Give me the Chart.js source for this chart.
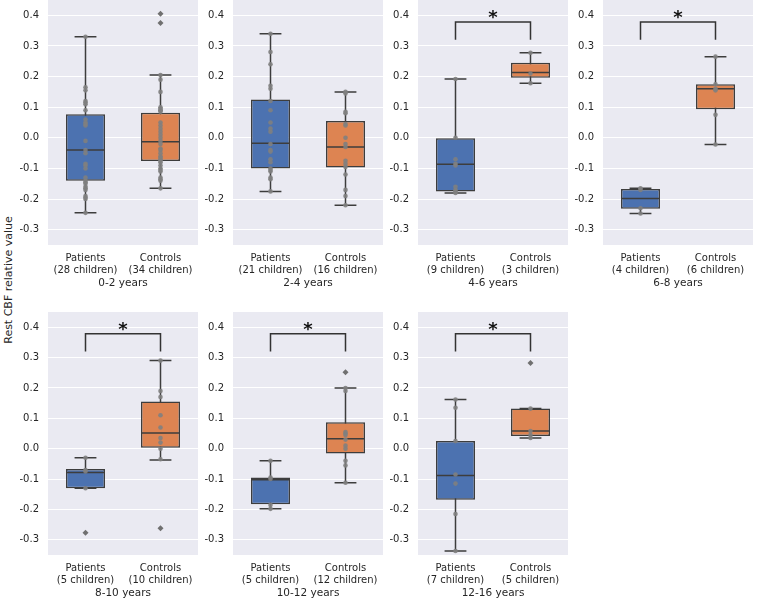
<!DOCTYPE html>
<html>
<head>
<meta charset="utf-8">
<script src="https://cdn.jsdelivr.net/npm/chart.js@4"></script>
<style>
  body { margin: 0; background: #fff; width: 757px; height: 600px; position: relative; overflow: hidden; font-family: "DejaVu Sans", sans-serif; }
  .panel { position: absolute; }
  #ytitle { position: absolute; left: 8px; top: 280px; transform: translate(-50%, -50%) rotate(-90deg); font-size: 11px; color: #262626; white-space: nowrap; }
</style>
</head>
<body>
<div id="ytitle">Rest CBF relative value</div>
<script>
// panels and groups
const panelTitles = ['0-2 years', '2-4 years', '4-6 years', '6-8 years', '8-10 years', '10-12 years', '12-16 years'];
const groups = ['Patients', 'Controls'];
const counts = [[28, 34], [21, 16], [9, 3], [4, 6], [5, 10], [5, 12], [7, 5]];
const yTicks = [-0.3, -0.2, -0.1, 0.0, 0.1, 0.2, 0.3, 0.4];

// box stats per panel, [patients, controls]
const whiskerLow  = [[-0.245, -0.165], [-0.175, -0.22], [-0.18, 0.178], [-0.247, -0.022], [-0.13, -0.037], [-0.198, -0.112], [-0.337, 0.035]];
const q1          = [[-0.14, -0.076], [-0.1, -0.097], [-0.175, 0.196], [-0.232, 0.093], [-0.13, 0.003], [-0.183, -0.016], [-0.168, 0.042]];
const median      = [[-0.04, -0.013], [-0.018, -0.03], [-0.086, 0.213], [-0.198, 0.16], [-0.078, 0.052], [-0.102, 0.033], [-0.088, 0.058]];
const q3          = [[0.077, 0.082], [0.125, 0.055], [0.0, 0.245], [-0.167, 0.175], [-0.067, 0.155], [-0.095, 0.087], [0.025, 0.132]];
const whiskerHigh = [[0.33, 0.205], [0.34, 0.15], [0.192, 0.278], [-0.165, 0.265], [-0.03, 0.29], [-0.04, 0.2], [0.162, 0.132]];

// individual children
const points = [
  [[0.33, 0.165, 0.155, 0.12, 0.115, 0.11, 0.09, 0.06, 0.05, 0.045, 0.04, -0.01, -0.04, -0.05, -0.085, -0.09, -0.1, -0.13, -0.14, -0.145, -0.15, -0.16, -0.165, -0.17, -0.19, -0.195, -0.2, -0.245],
   [0.205, 0.19, 0.15, 0.1, 0.095, 0.09, 0.09, 0.085, 0.05, 0.04, 0.03, 0.02, 0.01, 0.0, -0.01, -0.02, -0.035, -0.04, -0.05, -0.06, -0.065, -0.07, -0.075, -0.08, -0.09, -0.1, -0.105, -0.11, -0.13, -0.135, -0.14, -0.165]],
  [[0.34, 0.28, 0.24, 0.17, 0.16, 0.12, 0.09, 0.05, 0.03, 0.02, -0.02, -0.04, -0.045, -0.07, -0.08, -0.1, -0.105, -0.11, -0.13, -0.135, -0.175],
   [0.15, 0.145, 0.085, 0.08, 0.045, 0.04, 0.0, -0.02, -0.03, -0.075, -0.085, -0.095, -0.12, -0.17, -0.19, -0.22]],
  [[0.192, 0.0, -0.07, -0.085, -0.09, -0.16, -0.17, -0.175, -0.18],
   [0.278, 0.21, 0.178]],
  [[-0.165, -0.17, -0.23, -0.247],
   [0.265, 0.175, 0.16, 0.155, 0.075, -0.022]],
  [[-0.03, -0.07, -0.075, -0.13],
   [0.29, 0.19, 0.17, 0.11, 0.07, 0.035, 0.02, 0.0, -0.035]],
  [[-0.04, -0.095, -0.1, -0.185, -0.198],
   [0.2, 0.19, 0.055, 0.05, 0.045, 0.03, 0.01, 0.0, -0.04, -0.055, -0.112]],
  [[0.162, 0.135, 0.025, -0.085, -0.115, -0.215, -0.337],
   [0.132, 0.058, 0.045, 0.035]]
];
const outliers = [
  [[], [0.405, 0.375]],
  [[], []],
  [[], []],
  [[], []],
  [[-0.277], [-0.262]],
  [[], [0.252]],
  [[], [0.282]]
];
const significant = [false, false, true, true, true, true, true];

const boxColors = ['#4c72b0', '#dd8452'];
const edge = '#3d3d3d';
const textColor = '#262626';

Chart.defaults.font.family = '"DejaVu Sans", sans-serif';

const plotBg = {
  id: 'plotBg',
  beforeDraw(chart) {
    const { ctx, chartArea: a } = chart;
    ctx.save();
    ctx.fillStyle = '#eaeaf2';
    ctx.fillRect(a.left, a.top, a.width, a.height);
    ctx.restore();
  }
};

// whiskers, medians and the significance bracket
const boxParts = {
  id: 'boxParts',
  beforeDatasetsDraw(chart, args, opts) {
    const i = opts.panel;
    const { ctx } = chart;
    const x = chart.scales.x, y = chart.scales.y;
    const bars = chart.getDatasetMeta(0).data;
    ctx.save();
    ctx.strokeStyle = edge;
    ctx.lineWidth = 1.5;
    for (let g = 0; g < 2; g++) {
      const cx = x.getPixelForValue(g);
      const cap = bars[g].width * 0.28;
      const lo = y.getPixelForValue(whiskerLow[i][g]);
      const hi = y.getPixelForValue(whiskerHigh[i][g]);
      ctx.beginPath();
      ctx.moveTo(cx, lo); ctx.lineTo(cx, hi);
      ctx.moveTo(cx - cap, lo); ctx.lineTo(cx + cap, lo);
      ctx.moveTo(cx - cap, hi); ctx.lineTo(cx + cap, hi);
      ctx.stroke();
    }
    ctx.restore();
  },
  afterDatasetDraw(chart, args, opts) {
    if (args.index !== 0) return;
    const i = opts.panel;
    const { ctx } = chart;
    const y = chart.scales.y;
    const bars = chart.getDatasetMeta(0).data;
    ctx.save();
    ctx.strokeStyle = edge;
    ctx.lineWidth = 1.5;
    for (let g = 0; g < 2; g++) {
      const b = bars[g];
      const my = y.getPixelForValue(median[i][g]);
      ctx.beginPath();
      ctx.moveTo(b.x - b.width / 2, my);
      ctx.lineTo(b.x + b.width / 2, my);
      ctx.stroke();
    }
    ctx.restore();
  },
  afterDatasetsDraw(chart, args, opts) {
    const i = opts.panel;
    if (!significant[i]) return;
    const { ctx } = chart;
    const x = chart.scales.x, y = chart.scales.y;
    const x0 = x.getPixelForValue(0), x1 = x.getPixelForValue(1);
    const top = y.getPixelForValue(0.378), leg = y.getPixelForValue(0.32);
    ctx.save();
    ctx.strokeStyle = '#333';
    ctx.lineWidth = 1.5;
    ctx.beginPath();
    ctx.moveTo(x0, leg); ctx.lineTo(x0, top); ctx.lineTo(x1, top); ctx.lineTo(x1, leg);
    ctx.stroke();
    ctx.fillStyle = '#111';
    ctx.font = 'bold 18px "DejaVu Sans"';
    ctx.textAlign = 'center';
    ctx.textBaseline = 'middle';
    ctx.fillText('*', (x0 + x1) / 2, y.getPixelForValue(0.39));
    ctx.restore();
  }
};

// plot area left, top, height for each panel
const slots = [[48, 0, 245], [233, 0, 245], [418, 0, 245], [603, 0, 245], [48, 312, 243], [233, 312, 243], [418, 312, 243]];
const plotW = 150, axisW = 40, axisH = 45;

panelTitles.forEach((title, i) => {
  const [left, top, h] = slots[i];
  const div = document.createElement('div');
  div.className = 'panel';
  div.style.left = (left - axisW) + 'px';
  div.style.top = top + 'px';
  const canvas = document.createElement('canvas');
  canvas.width = axisW + plotW;
  canvas.height = h + axisH;
  div.appendChild(canvas);
  document.body.appendChild(div);

  new Chart(canvas, {
    type: 'bar',
    data: {
      labels: groups,
      datasets: [
        {
          data: groups.map((_, g) => [q1[i][g], q3[i][g]]),
          backgroundColor: boxColors,
          borderColor: edge,
          borderWidth: 1.5,
          borderSkipped: false,
          barPercentage: 0.52,
          categoryPercentage: 1,
          order: 3
        },
        {
          type: 'line',
          data: groups.flatMap((g, k) => points[i][k].map(v => ({ x: g, y: v }))),
          showLine: false,
          pointRadius: 2.3,
          pointBorderWidth: 0,
          pointBackgroundColor: 'rgba(128,128,128,0.9)',
          order: 2
        },
        {
          type: 'line',
          data: groups.flatMap((g, k) => outliers[i][k].map(v => ({ x: g, y: v }))),
          showLine: false,
          pointStyle: 'rectRot',
          pointRadius: 3,
          pointBorderWidth: 0,
          pointBackgroundColor: '#707070',
          order: 1
        }
      ]
    },
    options: {
      responsive: false,
      animation: false,
      layout: { padding: 0, autoPadding: false },
      scales: {
        x: {
          offset: true,
          grid: { display: false, drawTicks: false },
          border: { display: false },
          ticks: {
            color: textColor,
            font: { size: 10, lineHeight: 1.2 },
            padding: 7,
            maxRotation: 0,
            callback: (v, idx) => [groups[idx], '(' + counts[i][idx] + ' children)']
          },
          title: {
            display: true,
            text: title,
            color: textColor,
            font: { size: 10.5, lineHeight: 1.2 },
            padding: { top: 1, bottom: 0 }
          },
          afterFit: s => { s.height = axisH; s.paddingLeft = 0; s.paddingRight = 0; }
        },
        y: {
          min: -0.35,
          max: 0.45,
          grid: { color: '#ffffff', lineWidth: 1, drawTicks: false },
          border: { display: false },
          ticks: {
            color: textColor,
            font: { size: 10 },
            padding: 9,
            callback: v => v.toFixed(1)
          },
          afterBuildTicks: s => { s.ticks = yTicks.map(v => ({ value: v })); },
          afterFit: s => { s.width = axisW; s.paddingTop = 0; s.paddingBottom = 0; }
        }
      },
      plugins: {
        legend: { display: false },
        tooltip: { enabled: false },
        boxParts: { panel: i }
      }
    },
    plugins: [plotBg, boxParts]
  });
});
</script>
</body>
</html>
